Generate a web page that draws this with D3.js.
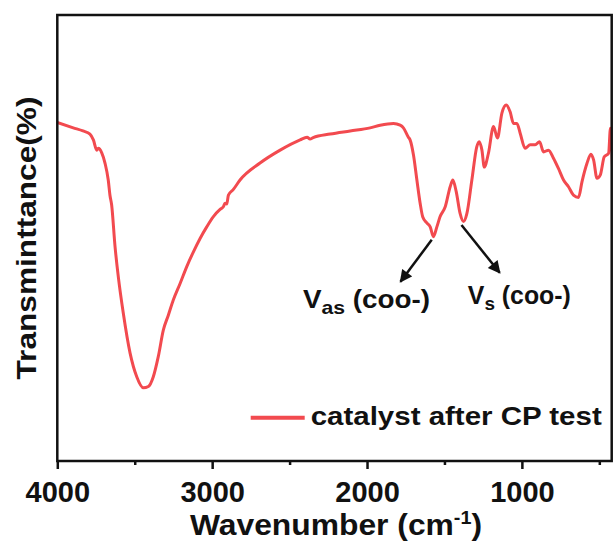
<!DOCTYPE html>
<html>
<head>
<meta charset="utf-8">
<script src="https://cdn.jsdelivr.net/npm/d3@7/dist/d3.min.js"></script>
<style>
  body { margin: 0; background: #fff; }
  text { font-family: Arial, "Liberation Sans", sans-serif; font-weight: bold; fill: #111; }
</style>
</head>
<body>
<svg id="chart" width="616" height="544"></svg>
<script>
// FTIR spectrum, values (transmittance in arbitrary %)
var wavenumber = [4000, 3897, 3834, 3789, 3767, 3745, 3735, 3713, 3692, 3671, 3660, 3649, 3627, 3606, 3574, 3530,
    3487, 3444, 3412, 3380, 3348, 3315, 3283, 3251, 3207, 3164, 3121, 3078, 3035, 2992, 2949, 2928, 2917, 2906,
    2895, 2863, 2820, 2691, 2561, 2432, 2387, 2368, 2348, 2238, 2109, 1980, 1915, 1829, 1786, 1765, 1733, 1722,
    1700, 1678, 1657, 1640, 1614, 1592, 1571, 1549, 1528, 1495, 1463, 1446, 1424, 1399, 1377, 1355, 1323, 1291,
    1276, 1258, 1243, 1216, 1183, 1158, 1129, 1101, 1076, 1054, 1032, 1011, 979, 946, 914, 886, 860, 828, 796,
    764, 731, 699, 667, 634, 612, 580, 554, 537, 515, 494, 468, 440, 428, 415];
var transmittance = [75.9, 74.7, 74.0, 73.3, 72.0, 69.7, 70.1, 69.1, 66.8, 63.0, 59.6, 57.4, 48.0, 41.3, 33.2, 24.2,
    18.9, 16.4, 16.7, 18.9, 23.4, 29.4, 32.7, 36.1, 39.8, 43.6, 46.9, 49.9, 52.5, 54.8, 56.4, 57.0, 57.8, 57.6,
    59.6, 60.9, 63.0, 66.8, 69.7, 72.0, 72.6, 72.2, 72.5, 73.3, 74.0, 74.7, 75.3, 75.7, 75.3, 74.7, 72.6, 72.0,
    68.6, 63.0, 57.8, 54.7, 53.4, 52.5, 50.3, 52.5, 54.8, 57.0, 61.5, 63.0, 60.4, 55.5, 53.7, 55.5, 63.0, 70.5,
    71.6, 69.7, 65.9, 69.0, 75.0, 72.4, 78.0, 79.8, 78.3, 75.7, 75.7, 73.5, 70.1, 70.9, 70.9, 71.6, 69.3, 69.7, 67.9,
    65.6, 63.0, 61.5, 59.6, 59.1, 62.6, 66.7, 68.8, 67.5, 63.4, 64.1, 68.2, 69.0, 74.6, 66.0];
var majorTicks = [4000, 3000, 2000, 1000];
var minorTicks = [3500, 2500, 1500, 500];
var seriesName = 'catalyst after CP test';
// band assignments: arrow from (wn, T) to (wn, T), label placed at (wn, T)
var bands = [
    { main: 'V', sub: 'as', from: [1582, 49.6], to: [1784, 40.2], at: [2414, 34.2], len: 127 },
    { main: 'V', sub: 's',  from: [1390, 52.9], to: [1143, 42.2], at: [1349, 35.2], len: 103 }
];

var svg = d3.select('#chart'),
    margin = { top: 15, right: 4.3, bottom: 83, left: 57.3 },
    width = 616 - margin.left - margin.right,
    height = 544 - margin.top - margin.bottom,
    red = '#f24a4f';

var x = d3.scaleLinear().domain([4000, 420]).range([0, width]);
var y = d3.scaleLinear().domain([0, 100]).range([height, 0]);

var g = svg.append('g')
    .attr('transform', 'translate(' + margin.left + ',' + margin.top + ')');

svg.append('defs').append('clipPath').attr('id', 'clip')
    .append('rect').attr('width', width).attr('height', height);
svg.select('defs').append('marker')
    .attr('id', 'arrow')
    .attr('viewBox', '0 0 10 10')
    .attr('refX', 9).attr('refY', 5)
    .attr('markerWidth', 5.5).attr('markerHeight', 5)
    .attr('orient', 'auto')
    .append('path').attr('d', 'M0,0 L10,5 L0,10 z').attr('fill', '#111');

var points = wavenumber.map(function(w, i) { return [w, transmittance[i]]; });

var line = d3.line()
    .x(function(d) { return x(d[0]); })
    .y(function(d) { return y(d[1]); })
    .curve(d3.curveMonotoneX);

g.append('path')
    .datum(points)
    .attr('clip-path', 'url(#clip)')
    .attr('fill', 'none')
    .attr('stroke', red)
    .attr('stroke-width', 3)
    .attr('stroke-linejoin', 'round')
    .attr('d', line);

// bottom axis with major and minor ticks
var xAxis = g.append('g')
    .attr('transform', 'translate(0,' + height + ')')
    .call(d3.axisBottom(x).tickValues(majorTicks).tickSize(8).tickPadding(6).tickFormat(d3.format('d')));
xAxis.select('.domain').remove();
xAxis.selectAll('.tick line').attr('stroke', '#111').attr('stroke-width', 2.5);
xAxis.selectAll('.tick text')
    .attr('dy', null).attr('y', 41)
    .style('font-size', '29px').attr('fill', '#111');

g.append('g')
    .attr('transform', 'translate(0,' + height + ')')
    .call(d3.axisBottom(x).tickValues(minorTicks).tickSize(4).tickFormat(''))
    .call(function(a) {
        a.select('.domain').remove();
        a.selectAll('.tick line').attr('stroke', '#111').attr('stroke-width', 2.5);
    });

// frame
g.append('rect')
    .attr('width', width).attr('height', height)
    .attr('fill', 'none').attr('stroke', '#111').attr('stroke-width', 2.5);

// axis titles
var xt = svg.append('text')
    .attr('x', 190).attr('y', 535)
    .attr('textLength', 292).attr('lengthAdjust', 'spacingAndGlyphs')
    .style('font-size', '29px');
xt.append('tspan').text('Wavenumber (cm');
xt.append('tspan').attr('dy', -11).style('font-size', '18px').text('-1');
xt.append('tspan').attr('dy', 11).text(')');

svg.append('text')
    .attr('transform', 'translate(36,238) rotate(-90)')
    .attr('text-anchor', 'middle')
    .attr('textLength', 283).attr('lengthAdjust', 'spacingAndGlyphs')
    .style('font-size', '28px')
    .text('Transminttance(%)');

// legend
var lg = g.append('g').attr('transform', 'translate(' + (250.7 - margin.left) + ',' + (417.7 - margin.top) + ')');
lg.append('line').attr('x1', 0).attr('x2', 54)
    .attr('stroke', red).attr('stroke-width', 4);
lg.append('text').attr('x', 60).attr('y', 7.5)
    .attr('textLength', 291).attr('lengthAdjust', 'spacingAndGlyphs')
    .style('font-size', '25px')
    .text(seriesName);

// band annotations
bands.forEach(function(b) {
    g.append('line')
        .attr('x1', x(b.from[0])).attr('y1', y(b.from[1]))
        .attr('x2', x(b.to[0])).attr('y2', y(b.to[1]))
        .attr('stroke', '#111').attr('stroke-width', 2.5)
        .attr('marker-end', 'url(#arrow)');
    var t = g.append('text')
        .attr('x', x(b.at[0])).attr('y', y(b.at[1]))
        .attr('textLength', b.len).attr('lengthAdjust', 'spacingAndGlyphs')
        .style('font-size', '25px');
    t.append('tspan').text(b.main);
    t.append('tspan').attr('dy', 6).style('font-size', '19px').text(b.sub);
    t.append('tspan').attr('dy', -6).text(' (coo-)');
});
</script>
</body>
</html>
